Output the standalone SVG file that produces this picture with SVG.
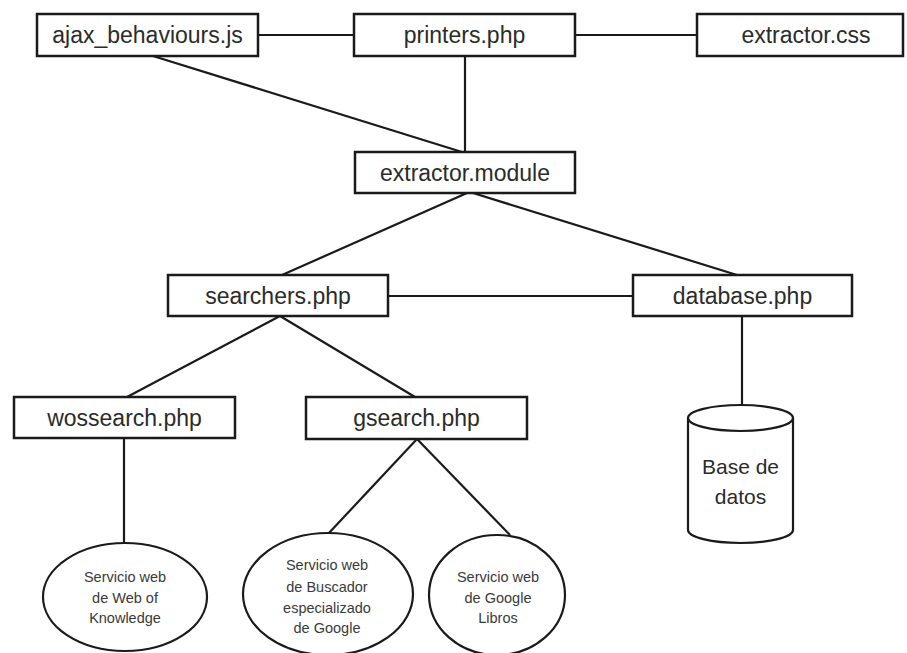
<svg xmlns="http://www.w3.org/2000/svg" width="907" height="653" viewBox="0 0 907 653">
<style>
.box{fill:#fff;stroke:#1a1a1a;stroke-width:2.5}
.shape{fill:#fff;stroke:#1a1a1a;stroke-width:2.2}
.lbl{font-family:"Liberation Sans",Arial,sans-serif;font-size:23px;fill:#2b2b2b;text-anchor:middle}
.small{font-family:"Liberation Sans",Arial,sans-serif;font-size:14.5px;fill:#3a3a3a;text-anchor:middle}
.db{font-family:"Liberation Sans",Arial,sans-serif;font-size:21px;fill:#2b2b2b;text-anchor:middle}
.conn line{stroke:#1a1a1a;stroke-width:2.2}
</style>
<rect width="907" height="653" fill="#fff"/>
<g id="connectors" class="conn">
<line x1="258" y1="35" x2="354" y2="35"/>
<line x1="575" y1="35" x2="697" y2="35"/>
<line x1="153" y1="56" x2="462" y2="152"/>
<line x1="465" y1="56" x2="465" y2="152"/>
<line x1="467" y1="193" x2="282" y2="275"/>
<line x1="473" y1="193" x2="737" y2="275"/>
<line x1="388" y1="296" x2="633" y2="296"/>
<line x1="280" y1="316" x2="127" y2="397"/>
<line x1="280" y1="316" x2="415" y2="397"/>
<line x1="742" y1="316" x2="742" y2="405"/>
<line x1="124" y1="438" x2="124" y2="543"/>
<line x1="417" y1="439" x2="328" y2="534"/>
<line x1="417" y1="439" x2="510" y2="535"/>
</g>
<g id="ajax">
<rect class="box" x="37" y="14" width="221" height="42"/>
<text class="lbl" x="147.5" y="43">ajax_behaviours.js</text>
</g>
<g id="printers">
<rect class="box" x="354" y="14" width="221" height="42"/>
<text class="lbl" x="464.5" y="43">printers.php</text>
</g>
<g id="extractor-css">
<rect class="box" x="697" y="14" width="206" height="42"/>
<text class="lbl" x="806" y="43">extractor.css</text>
</g>
<g id="extractor-module">
<rect class="box" x="355" y="152" width="220" height="41"/>
<text class="lbl" x="465" y="180.5">extractor.module</text>
</g>
<g id="searchers">
<rect class="box" x="168" y="275" width="220" height="41"/>
<text class="lbl" x="278" y="303.5">searchers.php</text>
</g>
<g id="database">
<rect class="box" x="633" y="275" width="219" height="41"/>
<text class="lbl" x="742.5" y="303.5">database.php</text>
</g>
<g id="wossearch">
<rect class="box" x="14" y="397" width="221" height="41"/>
<text class="lbl" x="124.5" y="425.5">wossearch.php</text>
</g>
<g id="gsearch">
<rect class="box" x="306" y="397" width="221" height="42"/>
<text class="lbl" x="416.5" y="426">gsearch.php</text>
</g>
<g id="base-de-datos">
<path class="shape" d="M688,418 L688,530 A52.5,13 0 0 0 793,530 L793,418"/>
<ellipse class="shape" cx="740.5" cy="418" rx="52.5" ry="13"/>
<text class="db" x="740.5" y="474">Base de</text>
<text class="db" x="740.5" y="504">datos</text>
</g>
<g id="ws-wok">
<ellipse class="shape" cx="125" cy="597" rx="82" ry="54"/>
<text class="small" x="125" y="582">Servicio web</text>
<text class="small" x="125" y="603">de Web of</text>
<text class="small" x="125" y="623">Knowledge</text>
</g>
<g id="ws-buscador">
<ellipse class="shape" cx="328" cy="594" rx="85" ry="61"/>
<text class="small" x="327" y="570">Servicio web</text>
<text class="small" x="327" y="592">de Buscador</text>
<text class="small" x="327" y="613">especializado</text>
<text class="small" x="327" y="633">de Google</text>
</g>
<g id="ws-libros">
<ellipse class="shape" cx="497" cy="595" rx="68" ry="60"/>
<text class="small" x="498" y="582">Servicio web</text>
<text class="small" x="498" y="603">de Google</text>
<text class="small" x="498" y="623">Libros</text>
</g>
</svg>
